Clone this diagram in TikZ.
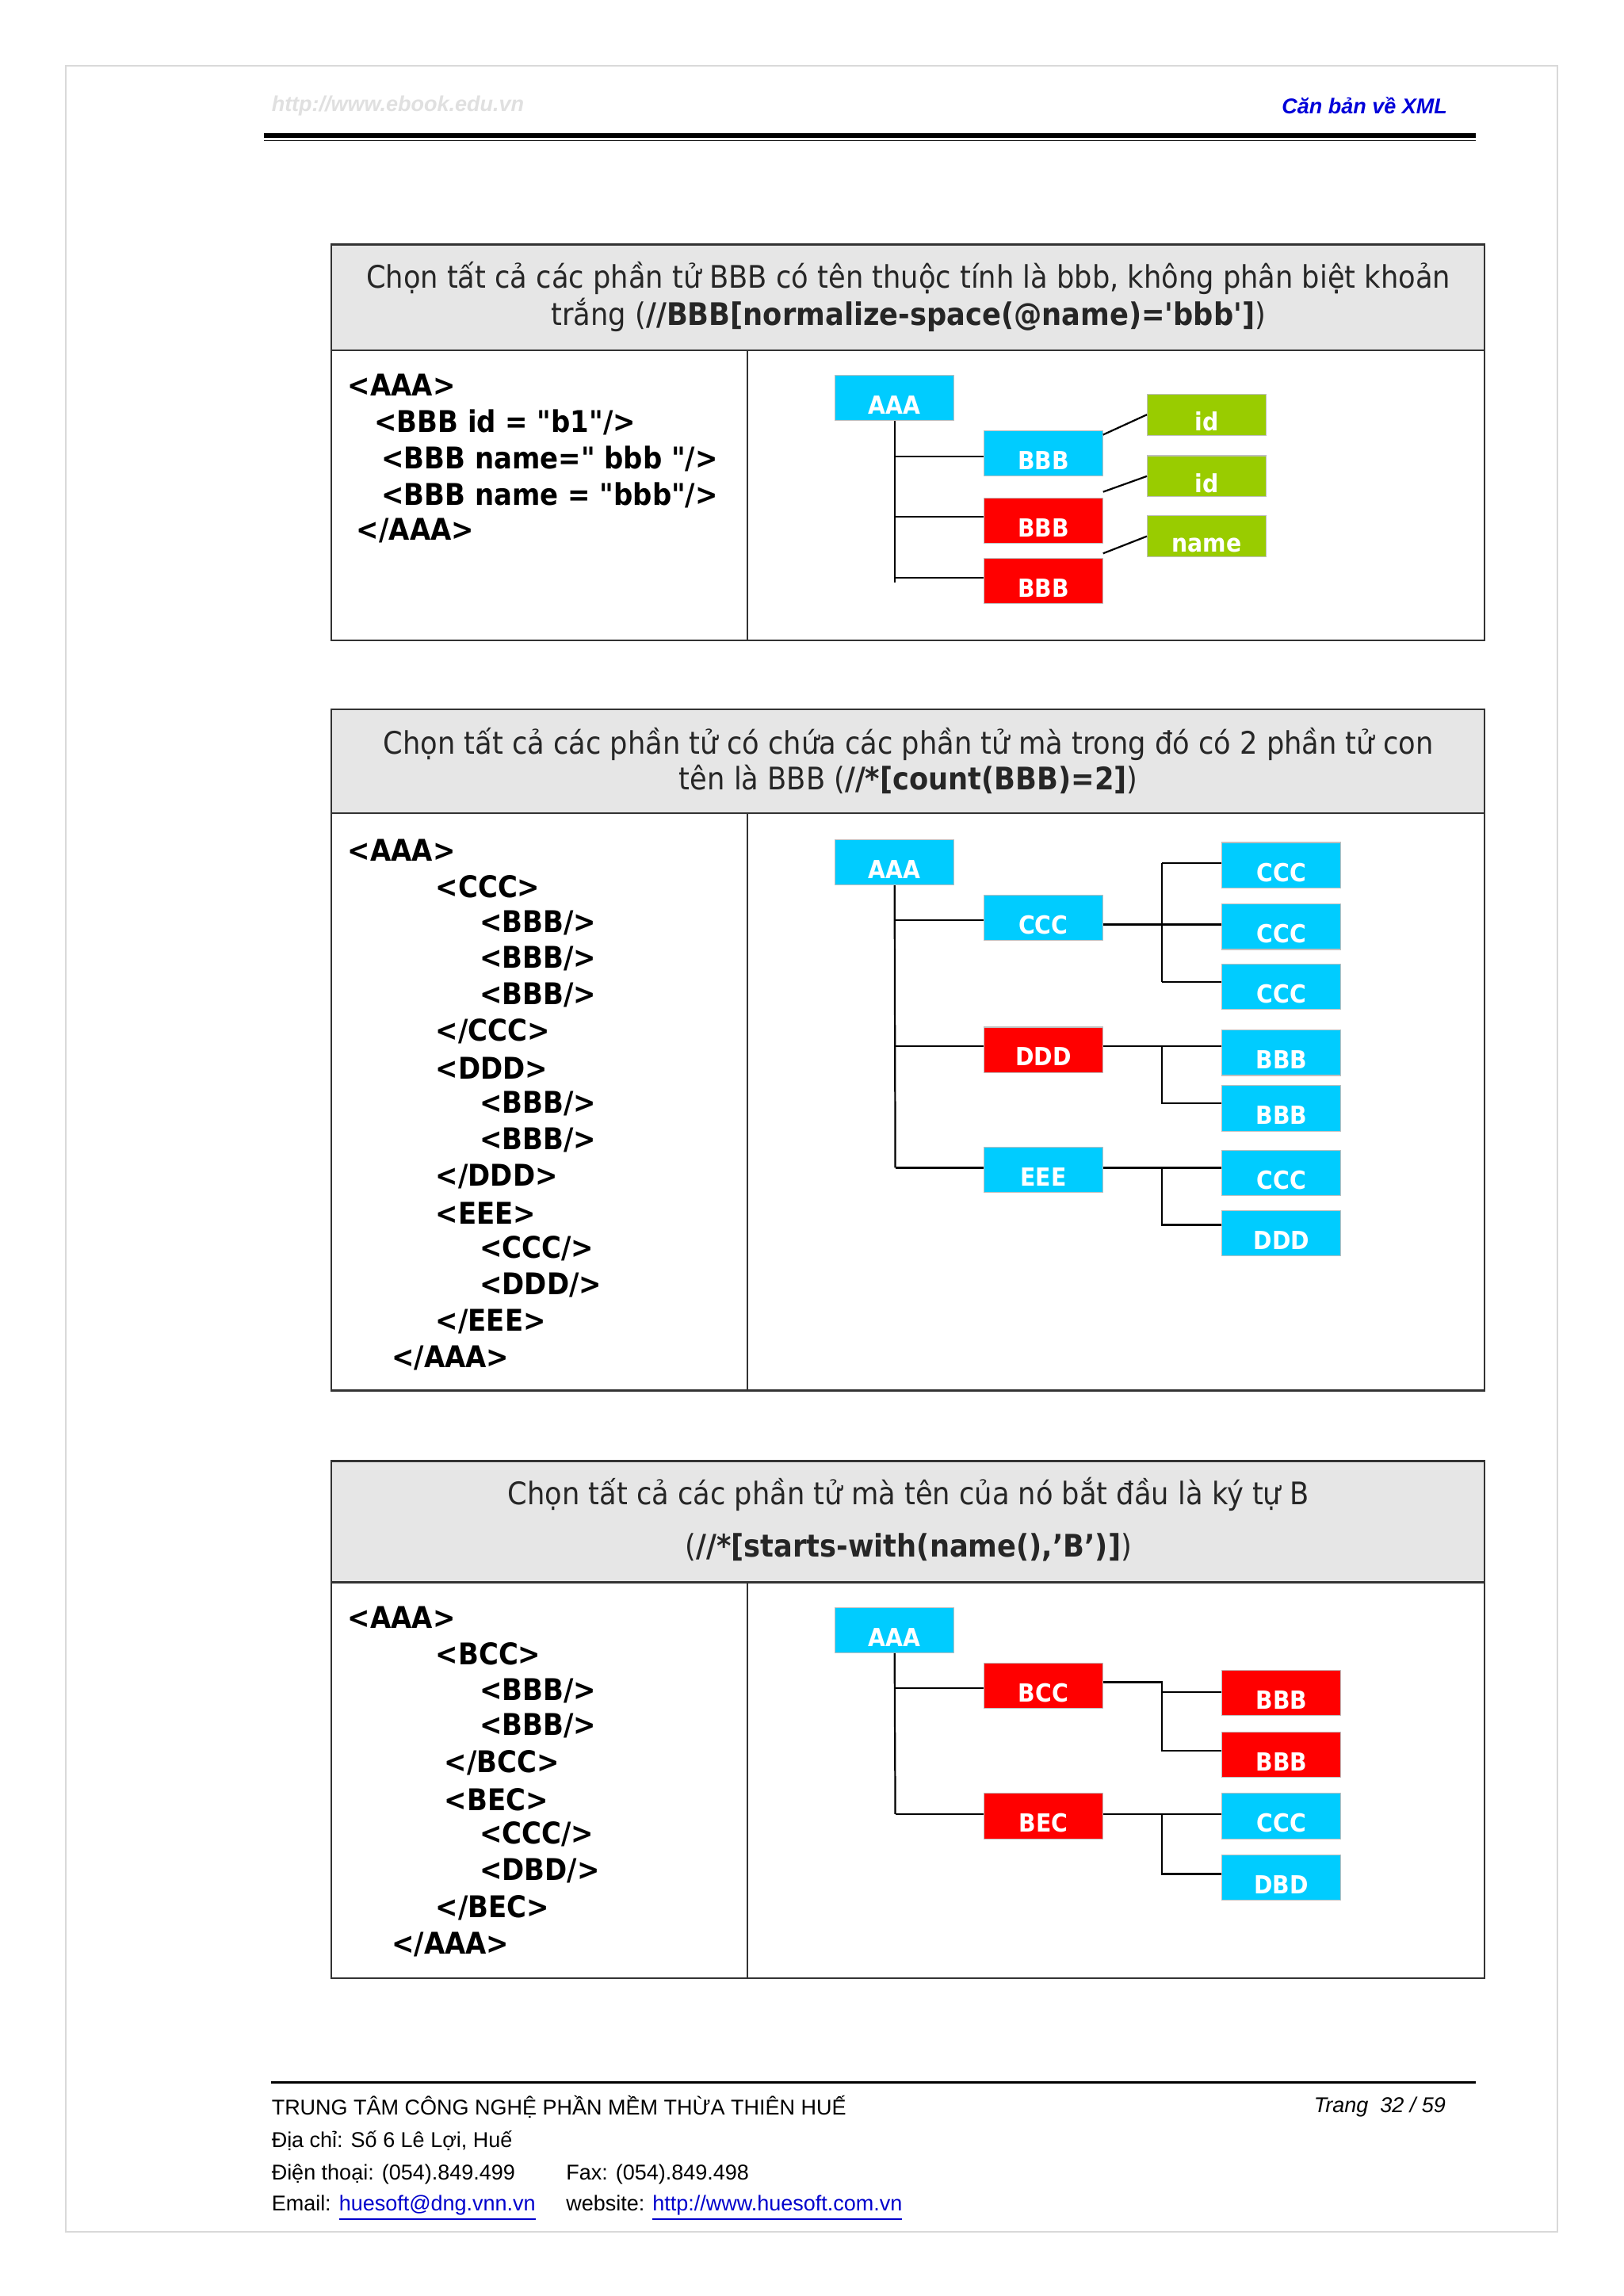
\documentclass[tikz,border=0pt]{standalone}
\usepackage{fontspec}
\usepackage{textcomp}
\setmainfont{DejaVu Sans Condensed}[Ligatures=NoCommon]
\newfontfamily\arial{Liberation Sans}
\newfontfamily\cond{DejaVu Sans Condensed}
\definecolor{cy}{HTML}{00CCFF}
\definecolor{rd}{HTML}{FF0000}
\definecolor{gr}{HTML}{99CC00}
\definecolor{hd}{HTML}{E6E6E6}
\newcommand{\dq}{\textquotedbl}
\newcommand{\sq}{\textquotesingle}
\newcommand{\lw}[1]{\raisebox{-5.5pt}[0pt][0pt]{#1}}
\begin{document}
\begin{tikzpicture}[x=0.5pt,y=-0.5pt,
  tb/.style={draw=black!80,line width=0.7pt},
  bx/.style={minimum width=40.5pt,minimum height=15.5pt,inner sep=0pt,text=white,font=\cond\bfseries\fontsize{8.5}{9}\selectfont,draw=black!25,line width=0.3pt},
  cyb/.style={bx,fill=cy},
  rdb/.style={bx,fill=rd},
  grb/.style={bx,fill=gr,minimum height=14pt},
  ln/.style={line width=0.6pt},
  code/.style={anchor=west,inner sep=0pt,font=\bfseries\fontsize{10.2}{11}\selectfont},
  ttl/.style={inner sep=0pt,text=black!85,font=\fontsize{10.6}{11}\selectfont},
  ft/.style={anchor=west,inner sep=0pt,font=\arial\fontsize{7.3}{8}\selectfont}]
\useasboundingbox (0,0) rectangle (1108,1567);
\fill[white] (0,0) rectangle (1108,1567);
\draw[black!15,line width=0.5pt] (45,45) rectangle (1063,1523);
% header
\node[anchor=west,inner sep=0pt,text=black!12,font=\arial\bfseries\itshape\fontsize{7.3}{8}\selectfont] (hurl) at (185,72) {http://www.ebook.edu.vn};
\node[anchor=east,inner sep=0pt,text=blue!85!black,font=\arial\bfseries\itshape\fontsize{7.3}{8}\selectfont] (htit) at (988,72) {Căn bản về XML};
\draw[line width=1.5pt] (180,92.5) -- (1007,92.5);
\draw[line width=0.5pt] (180,96) -- (1007,96);

% ===== Table 1
\fill[hd] (226,167) rectangle (1013,239);
\draw[tb] (226,167) rectangle (1013,437);
\draw[tb] (226,239) -- (1013,239);
\draw[tb] (510,239) -- (510,437);
\node[ttl] (t1a) at (620,190) {Chọn tất cả các phần tử BBB có tên thuộc tính là bbb, không phân biệt khoản};
\node[ttl] (t1b) at (620,215) {trắng (\textbf{//BBB[normalize-space(@name)=\sq bbb\sq]})};
\node[code] (c11) at (237,263) {<AAA>};
\node[code] (c12) at (255,288) {<BBB id = \dq b1\dq/>};
\node[code] (c13) at (260,313) {<BBB name=\dq\ bbb \dq/>};
\node[code] (c14) at (260,338) {<BBB name = \dq bbb\dq/>};
\node[code] (c15) at (243,362) {</AAA>};
\node[cyb] (a1) at (610.5,271.5) {\lw{AAA}};
\node[cyb] (b11) at (712,309.5) {\lw{BBB}};
\node[rdb] (b12) at (712,355.5) {\lw{BBB}};
\node[rdb] (b13) at (712,396.5) {\lw{BBB}};
\node[grb] (g11) at (823.5,283) {\lw{id}};
\node[grb] (g12) at (823.5,325) {\lw{id}};
\node[grb] (g13) at (823.5,366) {\lw{name}};
\draw[ln] (a1.south) -- ++(0,110);
\draw[ln] (b11.west) ++(-61,2) -- ++(61,0);
\draw[ln] (b12.west) ++(-61,-3) -- ++(61,0);
\draw[ln] (b13.west) ++(-61,-2) -- ++(61,0);
\draw[ln] (b11.north east) ++(0,3) -- (g11.west);
\draw[ln] (b12.north east) ++(0,-4) -- (g12.west);
\draw[ln] (b13.north east) ++(0,-3) -- (g13.west);

% ===== Table 2
\fill[hd] (226,484) rectangle (1013,555);
\draw[tb] (226,484) rectangle (1013,949);
\draw[tb] (226,555) -- (1013,555);
\draw[tb] (510,555) -- (510,949);
\node[ttl] (t2a) at (620,508) {Chọn tất cả các phần tử có chứa các phần tử mà trong đó có 2 phần tử con};
\node[ttl] (t2b) at (620,532) {tên là BBB (\textbf{//*[count(BBB)=2]})};
\node[code] (c21) at (237,580) {<AAA>};
\node[code] (c22) at (297,605) {<CCC>};
\node[code] (c23) at (327,630) {<BBB/>};
\node[code] (c24) at (327,654) {<BBB/>};
\node[code] (c25) at (327,679) {<BBB/>};
\node[code] (c26) at (297,704) {</CCC>};
\node[code] (c27) at (297,729) {<DDD>};
\node[code] (c28) at (327,753) {<BBB/>};
\node[code] (c29) at (327,778) {<BBB/>};
\node[code] (c210) at (297,803) {</DDD>};
\node[code] (c211) at (297,828) {<EEE>};
\node[code] (c212) at (327,852) {<CCC/>};
\node[code] (c213) at (327,877) {<DDD/>};
\node[code] (c214) at (297,902) {</EEE>};
\node[code] (c215) at (267,927) {</AAA>};
\node[cyb] (a2) at (610.5,588.5) {\lw{AAA}};
\node[cyb] (m21) at (712,626.5) {\lw{CCC}};
\node[rdb] (m22) at (712,716.5) {\lw{DDD}};
\node[cyb] (m23) at (712,798.5) {\lw{EEE}};
\node[cyb] (r21) at (874.5,590.5) {\lw{CCC}};
\node[cyb] (r22) at (874.5,632.5) {\lw{CCC}};
\node[cyb] (r23) at (874.5,673.5) {\lw{CCC}};
\node[cyb] (r24) at (874.5,718.5) {\lw{BBB}};
\node[cyb] (r25) at (874.5,756.5) {\lw{BBB}};
\node[cyb] (r26) at (874.5,800.5) {\lw{CCC}};
\node[cyb] (r27) at (874.5,841.5) {\lw{DDD}};
\draw[ln] (a2.south) -- (611,797);
\draw[ln] (611,628) -- (m21.west |- 0,628);
\draw[ln] (611,714) -- (m22.west |- 0,714);
\draw[ln] (611,797) -- (m23.west |- 0,797);
\draw[ln] (m21.east |- 0,631) -- (793,631);
\draw[ln] (793,589) -- (793,670);
\draw[ln] (793,589) -- (r21.west |- 0,589);
\draw[ln] (793,631) -- (r22.west |- 0,631);
\draw[ln] (793,670) -- (r23.west |- 0,670);
\draw[ln] (m22.east |- 0,714) -- (r24.west |- 0,714);
\draw[ln] (793,714) -- (793,753) -- (r25.west |- 0,753);
\draw[ln] (m23.east |- 0,797) -- (r26.west |- 0,797);
\draw[ln] (793,797) -- (793,836) -- (r27.west |- 0,836);

% ===== Table 3
\fill[hd] (226,997) rectangle (1013,1080);
\draw[tb] (226,997) rectangle (1013,1350);
\draw[tb] (226,1080) -- (1013,1080);
\draw[tb] (510,1080) -- (510,1350);
\node[ttl] (t3a) at (620,1020) {Chọn tất cả các phần tử mà tên của nó bắt đầu là ký tự B};
\node[ttl] (t3b) at (620,1056) {(\textbf{//*[starts-with(name(),’B’)]})};
\node[code] (c31) at (237,1104) {<AAA>};
\node[code] (c32) at (297,1129) {<BCC>};
\node[code] (c33) at (327,1154) {<BBB/>};
\node[code] (c34) at (327,1178) {<BBB/>};
\node[code] (c35) at (303,1203) {</BCC>};
\node[code] (c36) at (303,1228) {<BEC>};
\node[code] (c37) at (327,1252) {<CCC/>};
\node[code] (c38) at (327,1277) {<DBD/>};
\node[code] (c39) at (297,1302) {</BEC>};
\node[code] (c310) at (267,1327) {</AAA>};
\node[cyb] (a3) at (610.5,1112.5) {\lw{AAA}};
\node[rdb] (m31) at (712,1150.5) {\lw{BCC}};
\node[rdb] (m32) at (712,1239.5) {\lw{BEC}};
\node[rdb] (r31) at (874.5,1155.5) {\lw{BBB}};
\node[rdb] (r32) at (874.5,1197.5) {\lw{BBB}};
\node[cyb] (r33) at (874.5,1239.5) {\lw{CCC}};
\node[cyb] (r34) at (874.5,1281.5) {\lw{DBD}};
\draw[ln] (a3.south) -- (611,1238);
\draw[ln] (611,1152) -- (m31.west |- 0,1152);
\draw[ln] (611,1238) -- (m32.west |- 0,1238);
\draw[ln] (m31.east |- 0,1148) -- (793,1148) -- (793,1195) -- (r32.west |- 0,1195);
\draw[ln] (793,1155) -- (r31.west |- 0,1155);
\draw[ln] (m32.east |- 0,1238) -- (r33.west |- 0,1238);
\draw[ln] (793,1238) -- (793,1279) -- (r34.west |- 0,1279);

% footer
\draw[line width=0.8pt] (185,1421) -- (1007,1421);
\node[ft] (f1) at (185,1438) {TRUNG TÂM CÔNG NGHỆ PHẦN MỀM THỪA THIÊN HUẾ};
\node[ft,anchor=east] (f1r) at (987,1438) {\itshape Trang\ \ 32 / 59};
\node[ft] (f2) at (185,1461) {Địa chỉ: Số 6 Lê Lợi, Huế};
\node[ft] (f3) at (185,1484) {Điện thoại: (054).849.499};
\node[ft] (f3b) at (386,1484) {Fax: (054).849.498};
\node[ft] (f4) at (185,1507) {Email: \textcolor{blue!80!black}{\underline{huesoft@dng.vnn.vn}}};
\node[ft] (f4b) at (386,1507) {website: \textcolor{blue!80!black}{\underline{http://www.huesoft.com.vn}}};
\end{tikzpicture}
\end{document}
